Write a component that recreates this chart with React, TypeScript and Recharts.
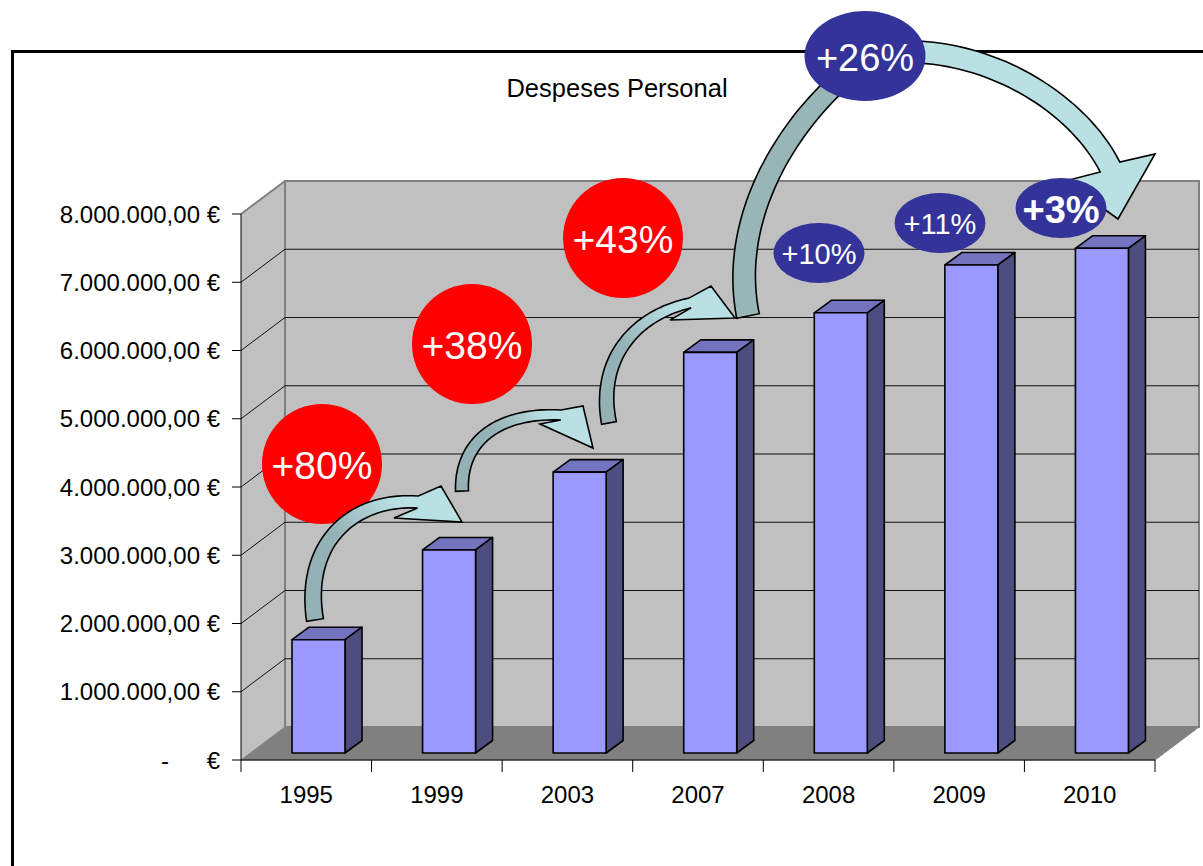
import { BarChart, Bar, XAxis, YAxis, CartesianGrid, ReferenceArea } from 'recharts'

// chart values
const YEARS = ['1995', '1999', '2003', '2007', '2008', '2009', '2010']
const SPENDING = [1660000, 2975000, 4115000, 5870000, 6450000, 7150000, 7395000]
const Y_TICKS = [0, 1000000, 2000000, 3000000, 4000000, 5000000, 6000000, 7000000, 8000000]
const GRID_VALUES = [1000000, 2000000, 3000000, 4000000, 5000000, 6000000, 7000000]
const GROWTH_EARLY = ['+80%', '+38%', '+43%']
const GROWTH_LATE = ['+10%', '+11%', '+3%']
const GROWTH_SPAN = '+26%'
const TITLE = 'Despeses Personal'

const data = YEARS.map((year, i) => ({ year, value: SPENDING[i] }))

// layout
const W = 1203
const H = 866
const PLOT_LEFT = 241
const PLOT_RIGHT = 1155
const BAND = (PLOT_RIGHT - PLOT_LEFT) / YEARS.length
const FONT = '"Liberation Sans", Arial, sans-serif'

// 3d depth of the walls and of the columns
const WALL_DX = 44
const WALL_DY = -33
const BAR_DX = 12
const BAR_DY = -7
const COL_DX = 17
const COL_DY = -12.5

function fmtEuro(v: number): string {
  const s = Math.round(v).toString().replace(/\B(?=(\d{3})+(?!\d))/g, '.')
  return `${s},00 €`
}

function YTick(props: any) {
  const { x, y, payload } = props
  if (payload.value === 0) {
    return (
      <g fontFamily={FONT} fontSize={24} fill="#000">
        <text x={x - 55} y={y} dy="0.36em" textAnchor="middle">-</text>
        <text x={x} y={y} dy="0.36em" textAnchor="end">€</text>
      </g>
    )
  }
  return (
    <text x={x} y={y} dy="0.36em" textAnchor="end" fontFamily={FONT} fontSize={24} fill="#000">
      {fmtEuro(payload.value)}
    </text>
  )
}

function XTick(props: any) {
  const { x, y, payload, index } = props
  const half = payload?.offset ?? BAND / 2
  const top = y - 12
  return (
    <g>
      <line x1={x - half} y1={top} x2={x - half} y2={y} stroke="#000" />
      {index === YEARS.length - 1 && <line x1={x + half} y1={top} x2={x + half} y2={y} stroke="#000" />}
      <text x={x} y={y + 31} textAnchor="middle" fontFamily={FONT} fontSize={24} fill="#000">
        {payload.value}
      </text>
    </g>
  )
}

function Walls(props: any) {
  const { x, y, width, height } = props
  const r = x + width
  const b = y + height
  return (
    <g>
      <polygon
        points={`${x},${y} ${x + WALL_DX},${y + WALL_DY} ${x + WALL_DX},${b + WALL_DY} ${x},${b}`}
        fill="#c0c0c0"
      />
      <rect x={x + WALL_DX} y={y + WALL_DY} width={width} height={height} fill="#c0c0c0" stroke="#808080" strokeWidth={2} />
      <line x1={x} y1={y} x2={x + WALL_DX} y2={y + WALL_DY} stroke="#808080" strokeWidth={2} />
      <polygon
        points={`${x},${b} ${x + WALL_DX},${b + WALL_DY} ${r + WALL_DX},${b + WALL_DY} ${r},${b}`}
        fill="#808080"
        stroke="#808080"
      />
    </g>
  )
}

function GridLine(props: any) {
  const { x1, y1, x2 } = props
  return (
    <g key={props.key}>
      <line x1={x1 + WALL_DX} y1={y1 + WALL_DY} x2={x2 + WALL_DX} y2={y1 + WALL_DY} stroke="#111" />
      <line x1={x1} y1={y1} x2={x1 + WALL_DX} y2={y1 + WALL_DY} stroke="#111" />
    </g>
  )
}

function Column(props: any) {
  const { x, y, width, height } = props
  if (!height) return null
  const fx = x + BAR_DX
  const fy = y + BAR_DY
  const r = fx + width
  const b = fy + height
  return (
    <g stroke="#000" strokeWidth={1.6} strokeLinejoin="round">
      <polygon points={`${fx},${fy} ${fx + COL_DX},${fy + COL_DY} ${r + COL_DX},${fy + COL_DY} ${r},${fy}`} fill="#7373c0" />
      <polygon points={`${r},${fy} ${r + COL_DX},${fy + COL_DY} ${r + COL_DX},${b + COL_DY} ${r},${b}`} fill="#4d4d80" />
      <rect x={fx} y={fy} width={width} height={height} fill="#9999ff" />
    </g>
  )
}

// curved block arrows of the annotation layer
type Pt = [number, number]
interface ArrowDef {
  id: string
  curve: [Pt, Pt, Pt, Pt]
  w0: number
  w1: number
  head?: [Pt, Pt, Pt]
  from: string
  to: string
}

const ARROWS: ArrowDef[] = [
  { id: 'a1', curve: [[315, 620], [303, 545], [350, 498], [418, 502]], w0: 17, w1: 12, head: [[394, 518], [441, 486], [462, 522]], from: '#94b1b5', to: '#b9e0e3' },
  { id: 'a2', curve: [[462, 491], [460, 440], [500, 412], [561, 415]], w0: 13, w1: 10, head: [[540, 424], [583, 406], [593, 448]], from: '#94b1b5', to: '#b9e0e3' },
  { id: 'a3', curve: [[609, 423], [597, 362], [632, 316], [690, 303]], w0: 15, w1: 10, head: [[670, 320], [711, 286], [735, 318]], from: '#94b1b5', to: '#b9e0e3' },
  { id: 'b1', curve: [[748, 316], [729, 222], [783, 128], [850, 72]], w0: 23, w1: 20, from: '#98b5b8', to: '#98b5b8' },
  { id: 'b2', curve: [[890, 52], [990, 46], [1078, 104], [1110, 167]], w0: 22, w1: 22, head: [[1065, 181], [1155, 154], [1118, 219]], from: '#b9e0e3', to: '#b9e0e3' },
]

function bez(c: Pt[], t: number): Pt {
  const u = 1 - t
  const a = u * u * u, b = 3 * u * u * t, d = 3 * u * t * t, e = t * t * t
  return [a * c[0][0] + b * c[1][0] + d * c[2][0] + e * c[3][0], a * c[0][1] + b * c[1][1] + d * c[2][1] + e * c[3][1]]
}

function bezD(c: Pt[], t: number): Pt {
  const u = 1 - t
  const a = 3 * u * u, b = 6 * u * t, d = 3 * t * t
  return [
    a * (c[1][0] - c[0][0]) + b * (c[2][0] - c[1][0]) + d * (c[3][0] - c[2][0]),
    a * (c[1][1] - c[0][1]) + b * (c[2][1] - c[1][1]) + d * (c[3][1] - c[2][1]),
  ]
}

function arrowPath(a: ArrowDef): string {
  const left: Pt[] = []
  const right: Pt[] = []
  const N = 40
  for (let i = 0; i <= N; i++) {
    const t = i / N
    const p = bez(a.curve, t)
    const d = bezD(a.curve, t)
    const len = Math.hypot(d[0], d[1]) || 1
    const n: Pt = [-d[1] / len, d[0] / len]
    const w = (a.w0 + (a.w1 - a.w0) * t) / 2
    left.push([p[0] + n[0] * w, p[1] + n[1] * w])
    right.push([p[0] - n[0] * w, p[1] - n[1] * w])
  }
  const pts: Pt[] = [...left]
  if (a.head) {
    const [h1, h2, tip] = a.head
    const le = left[N]
    const d1 = Math.hypot(h1[0] - le[0], h1[1] - le[1])
    const d2 = Math.hypot(h2[0] - le[0], h2[1] - le[1])
    const [hl, hr] = d1 < d2 ? [h1, h2] : [h2, h1]
    pts.push(hl, tip, hr)
  }
  pts.push(...right.reverse())
  return 'M' + pts.map((p) => `${p[0].toFixed(1)},${p[1].toFixed(1)}`).join(' L') + ' Z'
}

function Annotations() {
  const red = [
    { cx: 322, cy: 464 },
    { cx: 472, cy: 344 },
    { cx: 623, cy: 238 },
  ]
  const blue = [
    { cx: 819, cy: 253, fs: 29, bold: false },
    { cx: 940, cy: 223, fs: 29, bold: false },
    { cx: 1061, cy: 208, fs: 38, bold: true },
  ]
  return (
    <svg width={W} height={H} style={{ position: 'absolute', left: 0, top: 0, pointerEvents: 'none' }}>
      <defs>
        {ARROWS.map((a) => (
          <linearGradient
            key={a.id}
            id={`grad-${a.id}`}
            gradientUnits="userSpaceOnUse"
            x1={a.curve[0][0]}
            y1={a.curve[0][1]}
            x2={a.head ? a.head[2][0] : a.curve[3][0]}
            y2={a.head ? a.head[2][1] : a.curve[3][1]}
          >
            <stop offset="0.35" stopColor={a.from} />
            <stop offset="0.75" stopColor={a.to} />
          </linearGradient>
        ))}
      </defs>
      <text x={617} y={97} textAnchor="middle" fontFamily={FONT} fontSize={25.5} fill="#000">{TITLE}</text>

      {red.map((c, i) => (
        <g key={GROWTH_EARLY[i]}>
          <circle cx={c.cx} cy={c.cy} r={60} fill="#ff0000" />
          <text x={c.cx} y={c.cy + 15} textAnchor="middle" fontFamily={FONT} fontSize={39} fill="#fff">
            {GROWTH_EARLY[i]}
          </text>
        </g>
      ))}

      {ARROWS.map((a) => (
        <path key={a.id} d={arrowPath(a)} fill={`url(#grad-${a.id})`} stroke="#000" strokeWidth={1.6} strokeLinejoin="miter" />
      ))}

      {blue.map((c, i) => (
        <g key={GROWTH_LATE[i]}>
          <ellipse cx={c.cx} cy={c.cy} rx={45.5} ry={30} fill="#333399" />
          <text
            x={c.cx}
            y={c.cy + c.fs * 0.36 + 1}
            textAnchor="middle"
            fontFamily={FONT}
            fontSize={c.fs}
            fontWeight={c.bold ? 700 : 400}
            fill="#fff"
          >
            {GROWTH_LATE[i]}
          </text>
        </g>
      ))}

      <ellipse cx={865} cy={56} rx={60.5} ry={45} fill="#333399" />
      <text x={865} y={71} textAnchor="middle" fontFamily={FONT} fontSize={38} fill="#fff">{GROWTH_SPAN}</text>
    </svg>
  )
}

export default function App() {
  return (
    <div style={{ position: 'absolute', left: 0, top: 0, width: W, height: H, overflow: 'hidden', background: '#fff' }}>
      <div style={{ position: 'absolute', left: 11, top: 50, width: 1300, height: 1000, border: '3px solid #000' }} />
      <div style={{ position: 'absolute', left: 0, top: 0 }}>
        <BarChart
          width={W}
          height={H}
          data={data}
          margin={{ top: 214, right: W - PLOT_RIGHT, bottom: 56, left: PLOT_LEFT - 160 }}
          barSize={53}
        >
          <ReferenceArea y1={0} y2={8000000} shape={<Walls />} zIndex={-150} ifOverflow="visible" />
          <CartesianGrid horizontal={GridLine} vertical={false} horizontalValues={GRID_VALUES} />
          <XAxis
            dataKey="year"
            height={50}
            tickSize={12}
            tickMargin={0}
            tickLine={false}
            axisLine={{ stroke: '#000' }}
            tick={<XTick />}
            interval={0}
          />
          <YAxis
            type="number"
            domain={[0, 8000000]}
            ticks={Y_TICKS}
            interval={0}
            width={160}
            tickSize={9}
            tickMargin={12}
            axisLine={{ stroke: '#000' }}
            tickLine={{ stroke: '#000' }}
            tick={<YTick />}
          />
          <Bar dataKey="value" shape={<Column />} isAnimationActive={false} />
        </BarChart>
      </div>
      <Annotations />
    </div>
  )
}
